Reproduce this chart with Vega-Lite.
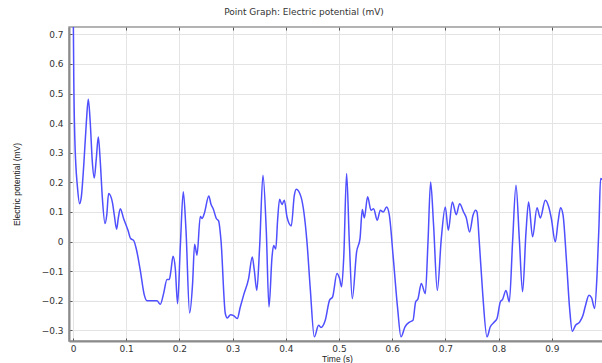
{
  "$schema": "https://vega.github.io/schema/vega-lite/v6.json",
  "width": 536,
  "height": 314,
  "autosize": {"type": "none"},
  "padding": {"left": 69, "top": 27, "right": 0, "bottom": 22},
  "background": "white",
  "title": {"text": "Point Graph: Electric potential (mV)", "font": "DejaVu Sans", "fontSize": 9, "fontWeight": "normal", "color": "#333333", "anchor": "middle", "dx": -33, "dy": -8, "offset": 2},
  "config": {
    "view": {"stroke": "#9a9a9a", "strokeWidth": 1.5},
    "axis": {"labelFont": "DejaVu Sans", "labelFontSize": 9, "labelColor": "#333333", "labelOverlap": false, "titleFont": "Liberation Sans", "titleFontSize": 8.5, "titleFontWeight": "normal", "titleColor": "#222222", "gridColor": "#e4e4e4", "gridWidth": 1, "domainColor": "#8c8c8c", "domainWidth": 2, "tickColor": "#555555", "tickSize": -3, "tickWidth": 1},
    "axisY": {"labelOverlap": false}
  },
  "data": {"values": [
    {"t": 0.0005, "v": 0.78}, {"t": 0.0015, "v": 0.55}, {"t": 0.0034, "v": 0.35}, {"t": 0.0053, "v": 0.26},
    {"t": 0.0081, "v": 0.19}, {"t": 0.0124, "v": 0.128}, {"t": 0.0156, "v": 0.15}, {"t": 0.0203, "v": 0.26},
    {"t": 0.025, "v": 0.4}, {"t": 0.0288, "v": 0.481}, {"t": 0.0325, "v": 0.4}, {"t": 0.0363, "v": 0.27},
    {"t": 0.04, "v": 0.215}, {"t": 0.0438, "v": 0.28}, {"t": 0.0476, "v": 0.353}, {"t": 0.0513, "v": 0.27},
    {"t": 0.0551, "v": 0.15}, {"t": 0.0602, "v": 0.061}, {"t": 0.0635, "v": 0.09}, {"t": 0.0669, "v": 0.162},
    {"t": 0.0739, "v": 0.134}, {"t": 0.0776, "v": 0.09}, {"t": 0.082, "v": 0.042}, {"t": 0.0852, "v": 0.08},
    {"t": 0.0889, "v": 0.111}, {"t": 0.0951, "v": 0.078}, {"t": 0.1034, "v": 0.038}, {"t": 0.1083, "v": 0.01},
    {"t": 0.1139, "v": 0.004}, {"t": 0.119, "v": -0.025}, {"t": 0.1265, "v": -0.097}, {"t": 0.1341, "v": -0.181},
    {"t": 0.1391, "v": -0.2}, {"t": 0.1515, "v": -0.2}, {"t": 0.1579, "v": -0.2}, {"t": 0.1641, "v": -0.212},
    {"t": 0.1703, "v": -0.176}, {"t": 0.1767, "v": -0.128}, {"t": 0.181, "v": -0.128}, {"t": 0.1842, "v": -0.097},
    {"t": 0.188, "v": -0.05}, {"t": 0.1923, "v": -0.091}, {"t": 0.1966, "v": -0.21}, {"t": 0.2017, "v": -0.018},
    {"t": 0.2073, "v": 0.168}, {"t": 0.2124, "v": 0.038}, {"t": 0.2192, "v": -0.241}, {"t": 0.2248, "v": -0.142},
    {"t": 0.2286, "v": -0.009}, {"t": 0.2331, "v": -0.046}, {"t": 0.2393, "v": 0.085}, {"t": 0.2425, "v": 0.078},
    {"t": 0.2468, "v": 0.095}, {"t": 0.2553, "v": 0.154}, {"t": 0.2594, "v": 0.126}, {"t": 0.2637, "v": 0.11},
    {"t": 0.2694, "v": 0.078}, {"t": 0.2737, "v": 0.07}, {"t": 0.2782, "v": 0.004}, {"t": 0.2863, "v": -0.243},
    {"t": 0.2901, "v": -0.258}, {"t": 0.2962, "v": -0.247}, {"t": 0.3019, "v": -0.25}, {"t": 0.3088, "v": -0.26},
    {"t": 0.3145, "v": -0.221}, {"t": 0.3207, "v": -0.181}, {"t": 0.3301, "v": -0.125}, {"t": 0.337, "v": -0.052},
    {"t": 0.3408, "v": -0.097}, {"t": 0.3455, "v": -0.165}, {"t": 0.3508, "v": -0.018}, {"t": 0.3571, "v": 0.224},
    {"t": 0.3633, "v": 0.038}, {"t": 0.3684, "v": -0.221}, {"t": 0.3741, "v": -0.052}, {"t": 0.3771, "v": -0.013},
    {"t": 0.3812, "v": -0.025}, {"t": 0.3846, "v": 0.072}, {"t": 0.3883, "v": 0.143}, {"t": 0.3929, "v": 0.125},
    {"t": 0.3972, "v": 0.14}, {"t": 0.4023, "v": 0.083}, {"t": 0.4103, "v": 0.053}, {"t": 0.416, "v": 0.156},
    {"t": 0.4197, "v": 0.177}, {"t": 0.4286, "v": 0.151}, {"t": 0.4398, "v": -0.001}, {"t": 0.446, "v": -0.159},
    {"t": 0.4536, "v": -0.322}, {"t": 0.4617, "v": -0.283}, {"t": 0.4662, "v": -0.29}, {"t": 0.4742, "v": -0.266},
    {"t": 0.4823, "v": -0.198}, {"t": 0.488, "v": -0.187}, {"t": 0.4962, "v": -0.108}, {"t": 0.5011, "v": -0.125},
    {"t": 0.5049, "v": -0.153}, {"t": 0.509, "v": -0.05}, {"t": 0.5143, "v": 0.23}, {"t": 0.5194, "v": 0.0},
    {"t": 0.525, "v": -0.193}, {"t": 0.5331, "v": -0.035}, {"t": 0.5395, "v": 0.01}, {"t": 0.5438, "v": 0.108},
    {"t": 0.5476, "v": 0.08}, {"t": 0.5538, "v": 0.151}, {"t": 0.5602, "v": 0.106}, {"t": 0.565, "v": 0.111},
    {"t": 0.572, "v": 0.072}, {"t": 0.5776, "v": 0.106}, {"t": 0.5833, "v": 0.1}, {"t": 0.5895, "v": 0.117},
    {"t": 0.5945, "v": 0.091}, {"t": 0.6021, "v": -0.057}, {"t": 0.6102, "v": -0.226}, {"t": 0.6165, "v": -0.322},
    {"t": 0.6241, "v": -0.288}, {"t": 0.6327, "v": -0.272}, {"t": 0.6391, "v": -0.266}, {"t": 0.644, "v": -0.204},
    {"t": 0.6485, "v": -0.193}, {"t": 0.6547, "v": -0.142}, {"t": 0.6623, "v": -0.176}, {"t": 0.6673, "v": -0.001},
    {"t": 0.6722, "v": 0.201}, {"t": 0.6778, "v": 0.055}, {"t": 0.6848, "v": -0.165}, {"t": 0.6923, "v": 0.01},
    {"t": 0.6998, "v": 0.117}, {"t": 0.7055, "v": 0.038}, {"t": 0.713, "v": 0.134}, {"t": 0.7205, "v": 0.091},
    {"t": 0.7267, "v": 0.128}, {"t": 0.7342, "v": 0.1}, {"t": 0.7393, "v": 0.08}, {"t": 0.7455, "v": 0.032},
    {"t": 0.7519, "v": 0.089}, {"t": 0.7568, "v": 0.106}, {"t": 0.7594, "v": 0.1}, {"t": 0.7637, "v": -0.001},
    {"t": 0.7699, "v": -0.17}, {"t": 0.7782, "v": -0.322}, {"t": 0.7844, "v": -0.288}, {"t": 0.7919, "v": -0.272},
    {"t": 0.797, "v": -0.26}, {"t": 0.8032, "v": -0.204}, {"t": 0.8075, "v": -0.195}, {"t": 0.8139, "v": -0.165},
    {"t": 0.8201, "v": -0.204}, {"t": 0.8263, "v": -0.001}, {"t": 0.8327, "v": 0.19}, {"t": 0.8389, "v": 0.01},
    {"t": 0.8451, "v": -0.17}, {"t": 0.8515, "v": 0.032}, {"t": 0.8564, "v": 0.134}, {"t": 0.8639, "v": 0.016},
    {"t": 0.8722, "v": 0.114}, {"t": 0.8784, "v": 0.08}, {"t": 0.8878, "v": 0.14}, {"t": 0.8947, "v": 0.114},
    {"t": 0.8991, "v": 0.078}, {"t": 0.9066, "v": -0.001}, {"t": 0.9117, "v": 0.066}, {"t": 0.9165, "v": 0.114},
    {"t": 0.9211, "v": 0.09}, {"t": 0.9273, "v": -0.057}, {"t": 0.9335, "v": -0.226}, {"t": 0.9385, "v": -0.303},
    {"t": 0.9447, "v": -0.283}, {"t": 0.9523, "v": -0.272}, {"t": 0.9586, "v": -0.249}, {"t": 0.9635, "v": -0.215},
    {"t": 0.9699, "v": -0.181}, {"t": 0.9748, "v": -0.19}, {"t": 0.9805, "v": -0.226}, {"t": 0.985, "v": -0.114},
    {"t": 0.9887, "v": 0.055}, {"t": 0.9917, "v": 0.213}, {"t": 0.9949, "v": 0.21}, {"t": 1.0, "v": 0.15}
  ]},
  "layer": [
    {
      "mark": {"type": "line", "color": "#4f4fff", "strokeWidth": 1.5, "interpolate": "monotone", "clip": true},
      "encoding": {
        "x": {"field": "t", "type": "quantitative", "scale": {"domain": [-0.0075, 1.0], "nice": false, "zero": false},
              "axis": {"title": "Time (s)", "format": "~f", "values": [0, 0.1, 0.2, 0.3, 0.4, 0.5, 0.6, 0.7, 0.8, 0.9, 1], "labelPadding": 6, "titlePadding": 1, "labelFlush": false, "labelOverlap": false}},
        "y": {"field": "v", "type": "quantitative", "scale": {"domain": [-0.336, 0.725], "nice": false, "zero": false},
              "axis": {"title": "Electric potential (mV)", "format": "~f", "values": [-0.3, -0.2, -0.1, 0, 0.1, 0.2, 0.3, 0.4, 0.5, 0.6, 0.7], "labelPadding": 9, "titleX": -48, "labelFlush": false, "labelOverlap": false, "labelBound": false}}
      }
    },
    {
      "mark": {"type": "rule", "opacity": 0},
      "encoding": {
        "x": {"field": "t", "type": "quantitative", "axis": {"orient": "top", "title": null, "labels": false, "grid": false, "domain": false, "values": [0, 0.1, 0.2, 0.3, 0.4, 0.5, 0.6, 0.7, 0.8, 0.9, 1]}}
      }
    }
  ],
  "resolve": {"axis": {"x": "independent"}}
}
